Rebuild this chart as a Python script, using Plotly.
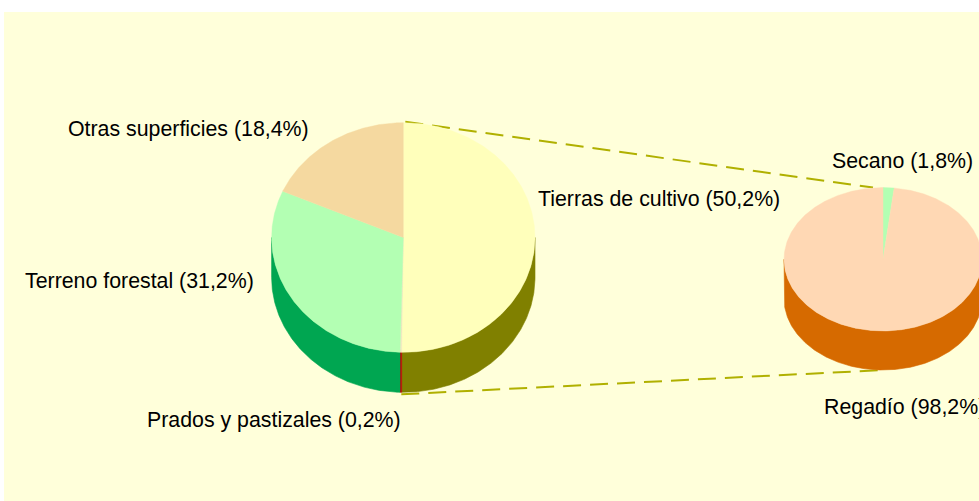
import numpy as np
import plotly.graph_objects as go

# ---- data ----
main_labels = ["Tierras de cultivo", "Prados y pastizales", "Terreno forestal", "Otras superficies"]
main_values = [50.2, 0.2, 31.2, 18.4]
sub_labels = ["Secano", "Regadío"]
sub_values = [1.8, 98.2]

# ---- styles ----
main_top = ["#FFFFBB", "#F0E8C0", "#B3FFB3", "#F5D9A0"]
main_side = ["#808000", "#C00000", "#00A651", "#C8A860"]
sub_top = ["#B3FFB3", "#FFD8B4"]
sub_side = ["#00A651", "#D66A00"]

W, H = 979, 501
BG = "#FFFFDA"
FONT = dict(family="Liberation Sans, Arial, sans-serif", size=21.33, color="#000000")

# geometry of the two pies (pixel space)
P1 = dict(cx=403.3, cy=237.5, rx=131.7, ry=114.8, d=40)
P2 = dict(cx=883.0, cy=259.3, rx=99.0, ry=71.7, d=39)


def arc(p, a, b, n=None, dy=0.0):
    if n is None:
        n = max(2, int(abs(b - a) * 2) + 2)
    t = np.radians(np.linspace(a, b, n))
    return p["cx"] + p["rx"] * np.sin(t), p["cy"] - p["ry"] * np.cos(t) + dy


def add_pie(fig, p, values, tops, sides):
    total = float(sum(values))
    bounds = []
    acc = 0.0
    for v in values:
        a = acc / total * 360.0
        acc += v
        b = acc / total * 360.0
        bounds.append((a, b))
    # side faces (front half only)
    for (a, b), col in zip(bounds, sides):
        lo, hi = max(a, 90.0), min(b, 270.0)
        if lo < hi:
            xt, yt = arc(p, lo, hi)
            xb, yb = arc(p, hi, lo, dy=p["d"])
            xs = np.concatenate([xt, xb, xt[:1]])
            ys = np.concatenate([yt, yb, yt[:1]])
            fig.add_trace(go.Scatter(x=xs, y=ys, mode="lines", fill="toself",
                                     fillcolor=col, line=dict(color=col, width=0.6),
                                     hoverinfo="skip", showlegend=False))
    # top faces
    for (a, b), col in zip(bounds, tops):
        xa, ya = arc(p, a, b)
        xs = np.concatenate([[p["cx"]], xa, [p["cx"]]])
        ys = np.concatenate([[p["cy"]], ya, [p["cy"]]])
        fig.add_trace(go.Scatter(x=xs, y=ys, mode="lines", fill="toself",
                                 fillcolor=col, line=dict(color=col, width=0.4),
                                 hoverinfo="skip", showlegend=False))


def fmt(label, v):
    return f"{label} ({v:.1f}%)".replace(".", ",")


fig = go.Figure()

# connector (series) lines
line_style = dict(color="#B0B000", width=2, dash="18px,9px")
fig.add_trace(go.Scatter(x=[P1["cx"] + 2, P2["cx"] - 10], y=[P1["cy"] - P1["ry"] - 1, P2["cy"] - P2["ry"]],
                         mode="lines", line=line_style, hoverinfo="skip", showlegend=False))
fig.add_trace(go.Scatter(x=[P1["cx"] - 2, P2["cx"]], y=[P1["cy"] + P1["ry"] + P1["d"] + 2, P2["cy"] + P2["ry"] + P2["d"]],
                         mode="lines", line=line_style, hoverinfo="skip", showlegend=False))

add_pie(fig, P1, main_values, main_top, main_side)
add_pie(fig, P2, sub_values, sub_top, sub_side)

# labels
ann = []
main_pos = [  # (x, y, xanchor)
    (536, 199, "left"),
    (403, 420, "right"),
    (256, 281, "right"),
    (311, 129, "right"),
]
for lab, v, (x, y, xa) in zip(main_labels, main_values, main_pos):
    ann.append(dict(x=x, y=y, xref="x", yref="y", text=fmt(lab, v), showarrow=False,
                    xanchor=xa, yanchor="middle", font=FONT))
sub_pos = [(830, 161, "left"), (822, 407, "left")]
for lab, v, (x, y, xa) in zip(sub_labels, sub_values, sub_pos):
    ann.append(dict(x=x, y=y, xref="x", yref="y", text=fmt(lab, v), showarrow=False,
                    xanchor=xa, yanchor="middle", font=FONT))

fig.update_layout(
    width=W, height=H,
    margin=dict(l=0, r=0, t=0, b=0),
    paper_bgcolor="#FFFFFF", plot_bgcolor="#FFFFFF",
    xaxis=dict(range=[0, W], visible=False, fixedrange=True),
    yaxis=dict(range=[H, 0], visible=False, fixedrange=True),
    shapes=[dict(type="rect", xref="x", yref="y", x0=4, y0=12, x1=W + 5, y1=H + 5,
                 fillcolor=BG, line=dict(width=0), layer="below")],
    annotations=ann,
    showlegend=False,
)

fig.write_html("out.html", config={"displayModeBar": False},
               post_script="document.body.style.margin='0px';document.body.style.overflow='hidden';")
